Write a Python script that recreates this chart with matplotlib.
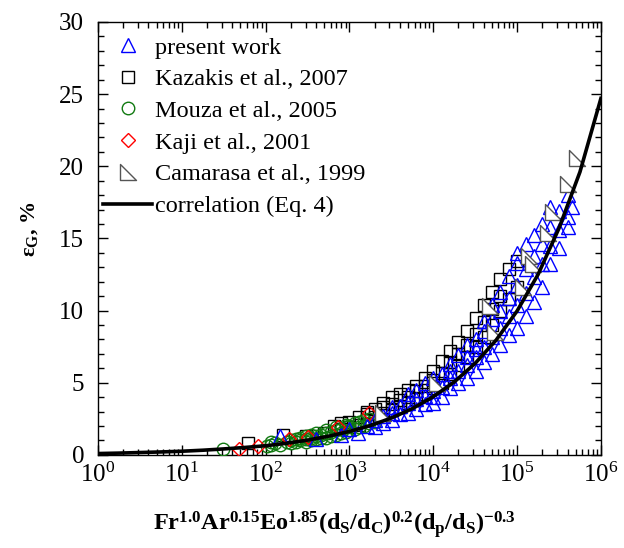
import matplotlib as mpl
import matplotlib.pyplot as plt
from matplotlib.path import Path
from matplotlib.ticker import MultipleLocator

mpl.use("Agg")

# present work (blue triangles)
present_x = [1.5e2, 4.0e2, 8.0e2, 1.0e3, 1.26e3, 1.6e3,
             2.0e3, 2.0e3, 2.5e3, 2.5e3, 3.2e3, 3.2e3, 3.2e3,
             4.0e3, 4.0e3, 5.0e3, 5.0e3, 5.0e3, 6.3e3, 6.3e3, 6.3e3,
             7.9e3, 7.9e3, 7.9e3, 1.0e4, 1.0e4, 1.0e4, 1.0e4,
             1.26e4, 1.26e4, 1.26e4, 1.58e4, 1.58e4, 1.58e4, 1.58e4,
             2.0e4, 2.0e4, 2.0e4, 2.5e4, 2.5e4, 2.5e4, 2.5e4,
             3.2e4, 3.2e4, 3.2e4, 3.2e4, 4.0e4, 4.0e4, 4.0e4, 4.0e4,
             5.0e4, 5.0e4, 5.0e4, 5.0e4, 6.3e4, 6.3e4, 6.3e4, 6.3e4,
             7.9e4, 7.9e4, 7.9e4, 7.9e4, 1.0e5, 1.0e5, 1.0e5, 1.0e5, 1.0e5,
             1.26e5, 1.26e5, 1.26e5, 1.26e5, 1.58e5, 1.58e5, 1.58e5, 1.58e5,
             2.0e5, 2.0e5, 2.0e5, 2.0e5, 2.5e5, 2.5e5, 2.5e5, 2.5e5,
             3.2e5, 3.2e5, 3.2e5, 4.0e5, 4.0e5, 4.0e5, 4.5e5]
present_y = [1.3, 1.1, 1.4, 1.8, 1.5, 2.0,
             1.9, 2.4, 2.2, 2.7, 2.4, 2.9, 3.3,
             2.8, 3.4, 2.9, 3.6, 4.2, 3.2, 3.9, 4.5,
             3.5, 4.1, 5.0, 3.6, 4.4, 5.3, 4.0,
             4.0, 4.7, 5.6, 4.6, 5.3, 6.3, 5.8,
             5.0, 5.8, 6.9, 5.3, 6.2, 7.6, 6.8,
             5.8, 6.8, 8.0, 7.3, 6.4, 7.5, 8.6, 9.3,
             7.0, 8.2, 9.4, 10.4, 7.6, 8.8, 10.0, 11.3,
             8.3, 9.6, 10.9, 12.4, 8.8, 10.4, 11.8, 13.3, 14.0,
             9.6, 11.2, 12.9, 14.6, 10.6, 12.3, 13.8, 15.2,
             11.6, 13.2, 14.6, 16.0, 13.2, 14.5, 15.8, 17.2,
             14.3, 15.6, 16.9, 15.8, 16.5, 18.0, 17.2]

# Kazakis et al., 2007 (black squares)
kazakis_x = [62, 160, 300, 500, 650, 800, 800, 1000, 1000, 1300, 1300,
             1600, 1600, 1600, 2000, 2000, 2500, 2500, 2500,
             3200, 3200, 3200, 4000, 4000, 4000, 5000, 5000, 5000,
             6300, 6300, 6300, 7900, 7900, 7900, 1.0e4, 1.0e4, 1.0e4,
             1.26e4, 1.26e4, 1.26e4, 1.58e4, 1.58e4, 1.58e4,
             2.0e4, 2.0e4, 2.0e4, 2.5e4, 2.5e4, 2.5e4, 3.2e4, 3.2e4, 3.2e4,
             4.0e4, 4.0e4, 4.0e4, 5.0e4, 5.0e4, 5.0e4, 6.3e4, 6.3e4, 6.3e4,
             7.9e4, 7.9e4, 1.0e5, 1.0e5]
kazakis_y = [0.8, 1.4, 1.3, 1.5, 2.0, 2.2, 1.8, 2.3, 1.9, 2.6, 2.1,
             2.8, 2.4, 3.0, 3.2, 2.6, 3.6, 2.9, 3.3,
             4.0, 3.1, 3.5, 4.2, 3.3, 3.8, 4.5, 3.6, 4.0,
             4.8, 3.9, 4.4, 5.3, 4.2, 4.8, 5.8, 4.6, 5.2,
             6.5, 5.0, 5.7, 7.2, 5.6, 6.4,
             7.8, 6.2, 7.0, 8.6, 6.8, 7.6, 9.5, 7.5, 8.4,
             10.4, 8.2, 9.2, 11.3, 9.0, 10.1, 12.2, 10.0, 11.0,
             12.9, 10.8, 13.4, 11.6]

# Mouza et al., 2005 (green circles)
mouza_x = [31, 105, 115, 115, 130, 150, 180, 200, 200, 230, 230, 260, 260,
           300, 300, 300, 350, 350, 350, 400, 400, 400, 460, 460,
           530, 530, 530, 600, 600, 700, 700, 700, 800, 800,
           900, 900, 900, 1000, 1000, 1150, 1150, 1300, 1300,
           1500, 1500, 1700, 1700, 2000]
mouza_y = [0.4, 0.6, 0.7, 0.9, 0.8, 0.7, 0.9, 0.8, 1.0, 0.9, 1.1, 1.0, 1.2,
           0.9, 1.1, 1.3, 1.0, 1.2, 1.4, 1.1, 1.3, 1.5, 1.2, 1.4,
           1.2, 1.5, 1.7, 1.3, 1.6, 1.4, 1.7, 1.9, 1.5, 1.8,
           1.6, 1.9, 2.1, 1.7, 2.0, 1.8, 2.2, 1.9, 2.3,
           2.0, 2.4, 2.2, 2.5, 2.3]

# Kaji et al., 2001 (red diamonds)
kaji_x = [48, 81, 190, 320, 730, 1700]
kaji_y = [0.4, 0.6, 1.1, 1.25, 1.9, 2.9]

# Camarasa et al., 1999 (grey right triangles)
camarasa_x = [2.5e3, 1.1e4, 4.8e4, 5.5e4, 1.18e5, 1.4e5, 1.55e5,
              2.35e5, 2.7e5, 4.0e5, 5.2e5]
camarasa_y = [2.9, 5.0, 10.3, 8.5, 11.6, 13.8, 13.2,
              15.4, 16.8, 18.8, 20.6]

# correlation (Eq. 4)
corr_x = [1e0, 1.78e0, 3.16e0, 5.62e0, 1e1, 1.78e1, 3.16e1, 5.62e1,
          1e2, 1.78e2, 3.16e2, 5.62e2, 1e3, 1.78e3, 3.16e3, 5.62e3,
          1e4, 1.78e4, 3.16e4, 5.62e4, 1e5, 1.78e5, 3.16e5, 5.62e5, 1e6]
corr_y = [0.09, 0.12, 0.16, 0.20, 0.25, 0.32, 0.41, 0.51,
          0.63, 0.80, 1.02, 1.29, 1.62, 2.03, 2.55, 3.20,
          4.03, 5.05, 6.34, 7.95, 9.97, 12.5, 15.7, 19.6, 24.7]

plt.rcParams["font.family"] = "Liberation Serif"
plt.rcParams["mathtext.fontset"] = "custom"
plt.rcParams["mathtext.rm"] = "Liberation Serif"
plt.rcParams["mathtext.it"] = "Liberation Serif:italic"
plt.rcParams["mathtext.bf"] = "Liberation Serif:bold"

fig = plt.figure(figsize=(6.24, 5.48), dpi=100)
ax = fig.add_axes([0.157, 0.17, 0.806, 0.79])

right_tri = Path([(-1, 1), (-1, -1), (1, -1), (-1, 1)],
                 [Path.MOVETO, Path.LINETO, Path.LINETO, Path.CLOSEPOLY])

ax.plot(kazakis_x, kazakis_y, ls="none", marker="s", ms=8.5, mfc="none",
        mec="black", mew=1.0, label="Kazakis et al., 2007", zorder=3)
ax.plot(mouza_x, mouza_y, ls="none", marker="o", ms=9, mfc="none",
        mec="#117a11", mew=1.0, label="Mouza et al., 2005", zorder=3)
ax.plot(kaji_x, kaji_y, ls="none", marker="D", ms=7.5, mfc="none",
        mec="red", mew=1.0, label="Kaji et al., 2001", zorder=3)
ax.plot(present_x, present_y, ls="none", marker="^", ms=9.5, mfc="none",
        mec="blue", mew=1.0, label="present work", zorder=3)
ax.plot(camarasa_x, camarasa_y, ls="none", marker=right_tri, ms=11,
        mfc="white", mec="#555555", mew=1.0, label="Camarasa et al., 1999",
        zorder=4)
ax.plot(corr_x, corr_y, color="black", lw=2.6, label="correlation (Eq. 4)",
        zorder=5)

ax.set_xscale("log")
ax.set_xlim(1, 1e6)
ax.set_ylim(0, 30)
ax.yaxis.set_major_locator(MultipleLocator(5))
ax.yaxis.set_minor_locator(MultipleLocator(1))

ax.tick_params(which="both", direction="in", top=True, right=True,
               labelsize=18, width=1.0)
ax.tick_params(which="major", length=7)
ax.tick_params(which="minor", length=4)
ax.tick_params(axis="x", pad=6)
ax.tick_params(axis="y", pad=10)
for s in ax.spines.values():
    s.set_linewidth(1.0)

ax.set_xlabel(r"$\mathbf{Fr^{1.0}Ar^{0.15}Eo^{1.85}(d_S/d_C)^{0.2}(d_p/d_S)^{-0.3}}$",
              fontsize=17.5)
ax.xaxis.set_label_coords(0.47, -0.125)
ax.set_ylabel(r"$\mathbf{ε_G}$, %", fontsize=16, fontweight="bold")
ax.yaxis.set_label_coords(-0.115, 0.52)

handles, labels = ax.get_legend_handles_labels()
order = [3, 0, 1, 2, 4, 5]
ax.legend([handles[i] for i in order], [labels[i] for i in order],
          loc="upper left", frameon=False, fontsize=17.5, handlelength=2.0,
          handletextpad=0.1, labelspacing=0.4, borderaxespad=0.4,
          borderpad=0.2, bbox_to_anchor=(-0.018, 1.0))

fig.savefig("out.png", dpi=100)
